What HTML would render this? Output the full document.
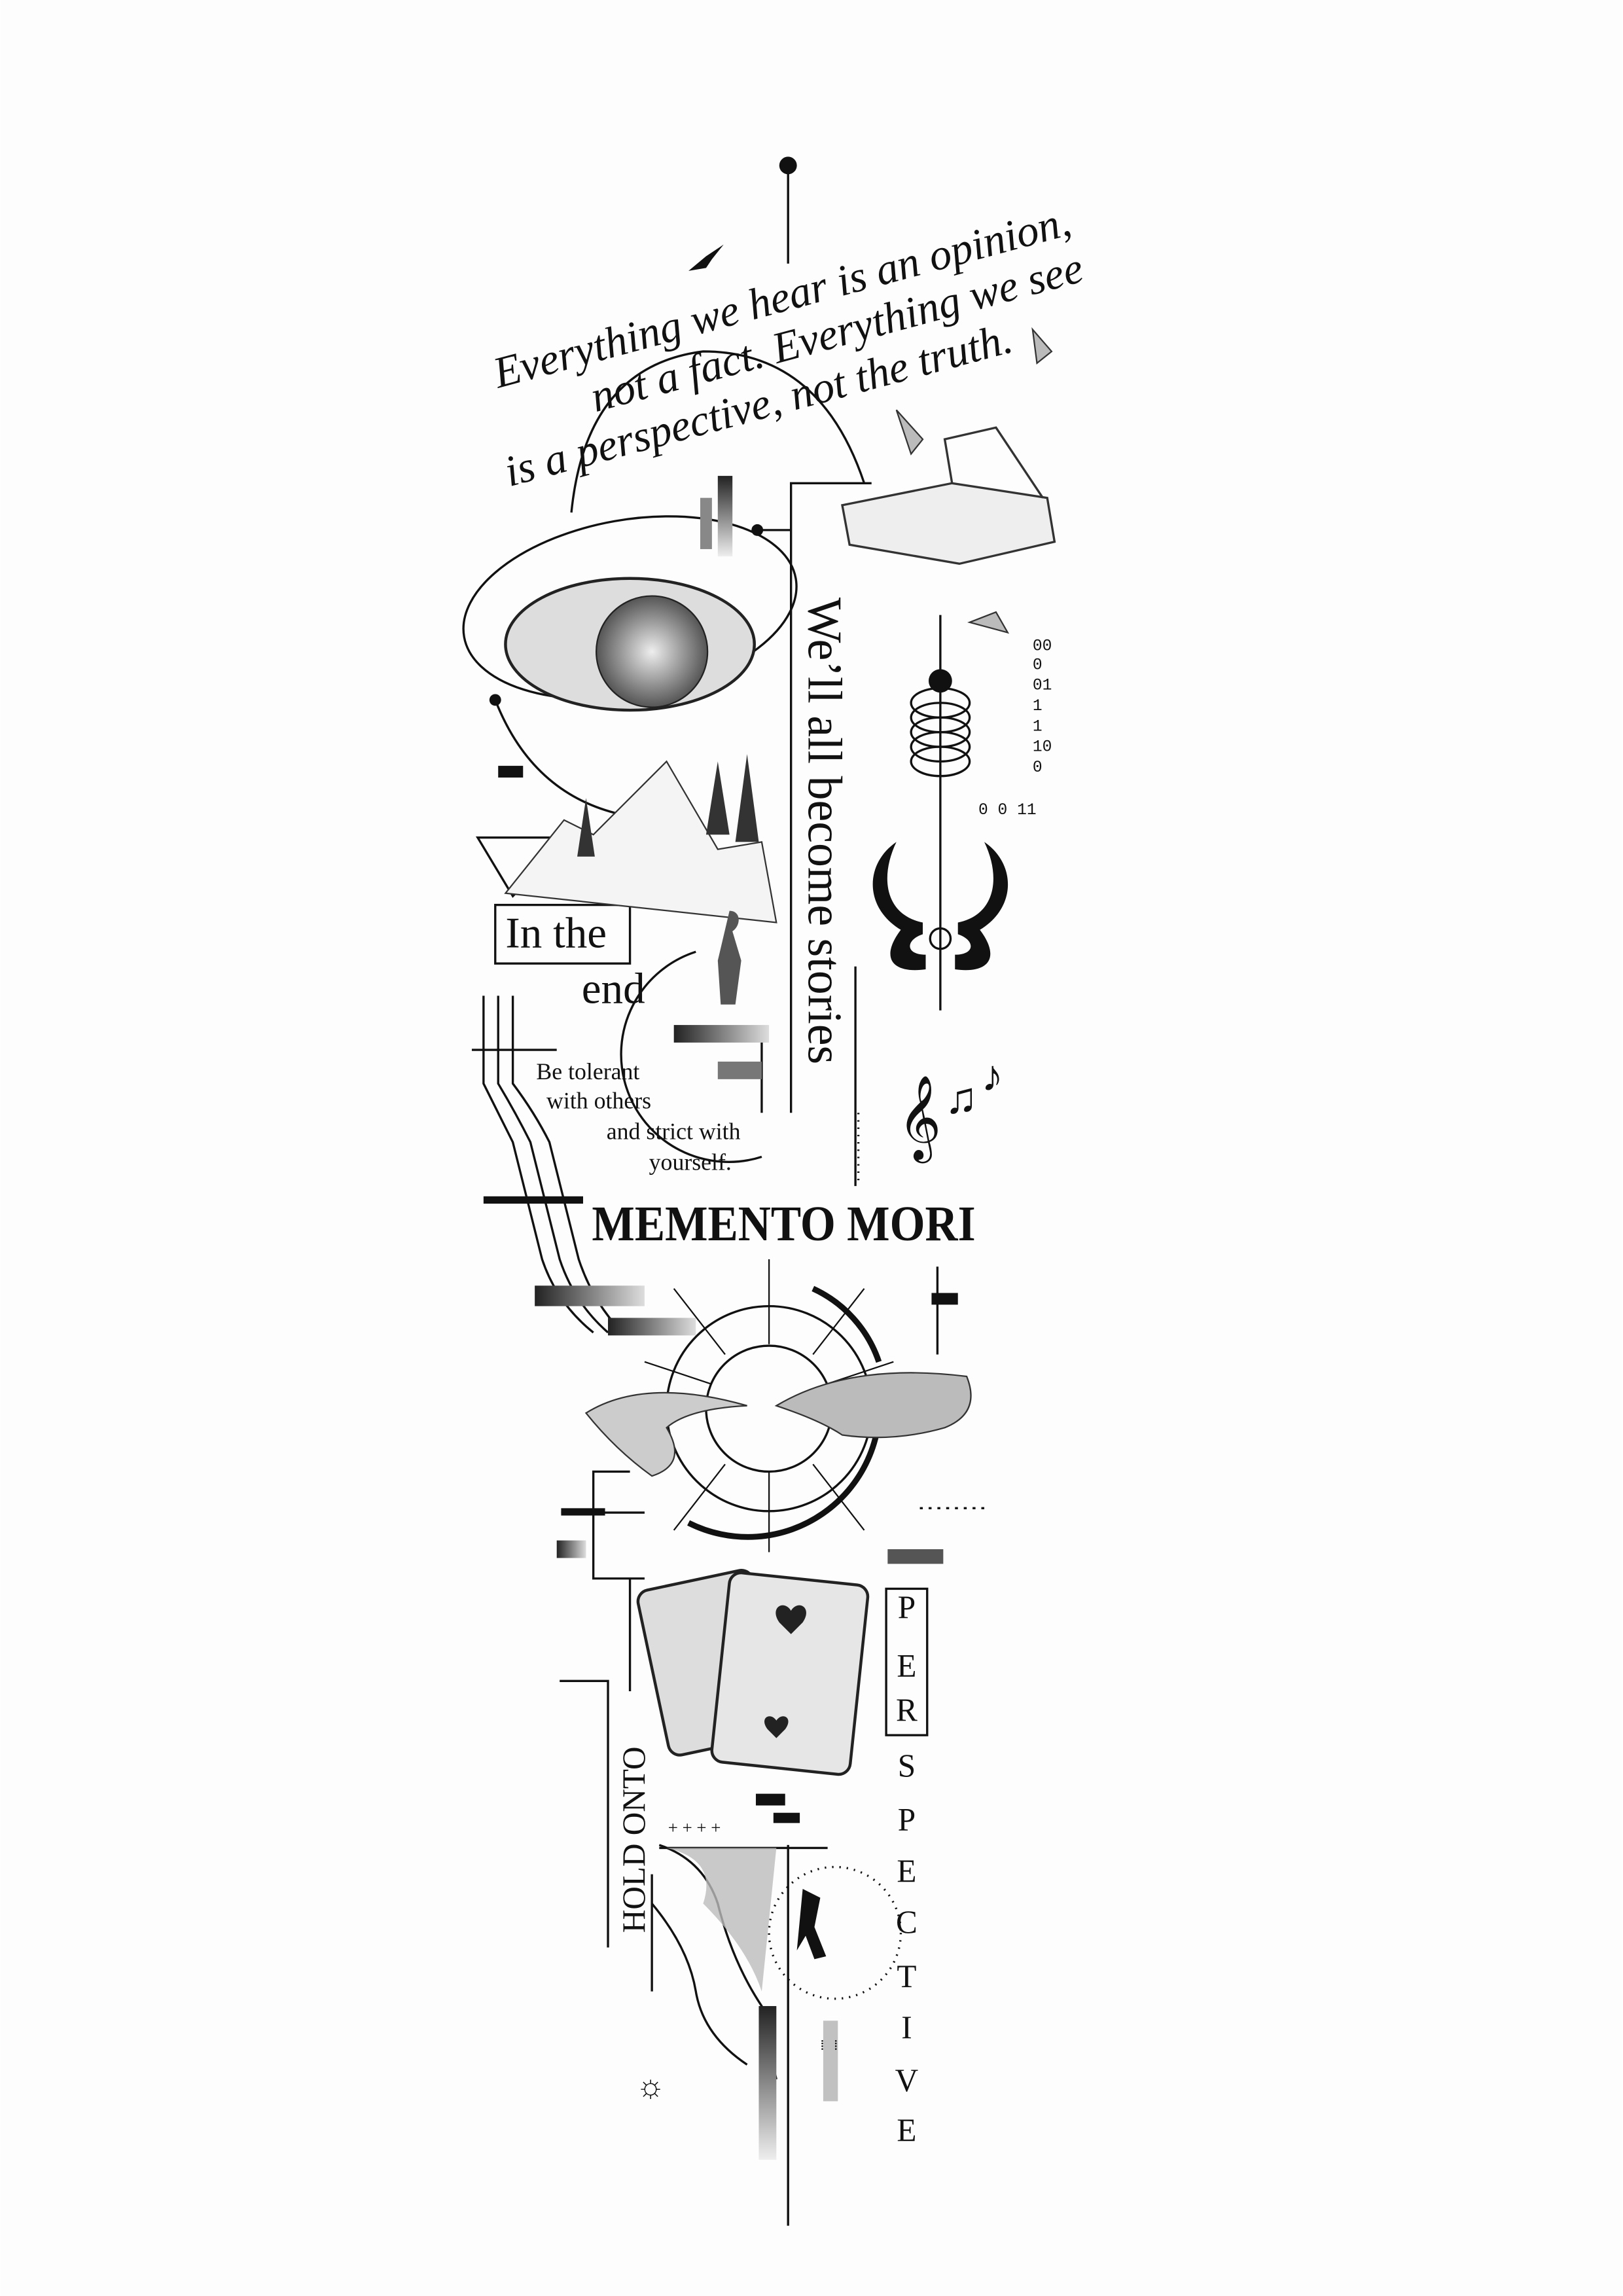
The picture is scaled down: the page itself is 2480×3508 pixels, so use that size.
<!DOCTYPE html>
<html><head><style>html,body{margin:0;padding:0;background:#fff}svg{display:block}</style></head>
<body>
<svg width="2480" height="3508" viewBox="0 0 1108 1568" xmlns="http://www.w3.org/2000/svg" font-family="Liberation Serif, serif">
<defs>
<radialGradient id="g1" cx="50%" cy="50%" r="50%"><stop offset="0" stop-color="#eee"/><stop offset="1" stop-color="#555"/></radialGradient>
<linearGradient id="gr" x1="0" x2="1"><stop offset="0" stop-color="#222"/><stop offset="1" stop-color="#ddd"/></linearGradient>
<linearGradient id="gv" x1="0" y1="0" x2="0" y2="1"><stop offset="0" stop-color="#222"/><stop offset="1" stop-color="#eee"/></linearGradient>
</defs>
<rect width="1108" height="1568" fill="#fdfdfd"/>
<g fill="none" stroke="#111" stroke-width="1.5">
<!-- top line -->
<line x1="538" y1="113" x2="538" y2="180"/>
<!-- big arcs -->
<path d="M390 350 Q400 250 480 240 Q560 240 590 330"/>
<ellipse cx="430" cy="415" rx="115" ry="60" transform="rotate(-10 430 415)"/>
<path d="M338 478 Q370 560 460 560"/>
<!-- frame line near text -->
<path d="M595 330 H540 V760"/>
<line x1="520" y1="362" x2="540" y2="362"/>
<!-- vertical right pendulum -->
<line x1="642" y1="420" x2="642" y2="690"/>
<!-- springs -->
<ellipse cx="642" cy="480" rx="20" ry="10"/><ellipse cx="642" cy="490" rx="20" ry="10"/><ellipse cx="642" cy="500" rx="20" ry="10"/><ellipse cx="642" cy="510" rx="20" ry="10"/><ellipse cx="642" cy="520" rx="20" ry="10"/>
<circle cx="642" cy="641" r="7"/>
<!-- right vertical line -->
<line x1="584" y1="660" x2="584" y2="810"/>
<line x1="586" y1="760" x2="586" y2="810" stroke-dasharray="1 4"/>
<!-- in the end box -->
<rect x="338" y="618" width="92" height="40"/>
<path d="M326 572 H390 L350 612 Z"/>
<!-- wavy lines -->
<path d="M330 680 V740 Q340 760 350 780 Q360 820 370 860 Q380 890 405 910"/>
<path d="M340 680 V740 Q352 760 362 780 Q372 820 382 860 Q392 890 415 910"/>
<path d="M350 680 V740 Q365 760 375 780 Q385 820 395 860 Q405 890 425 910"/>
<line x1="322" y1="717" x2="380" y2="717"/>
<path d="M520 702 V760"/>
<path d="M475 650 A70 70 0 0 0 520 790"/>
<!-- sun -->
<circle cx="525" cy="962" r="43"/>
<circle cx="525" cy="962" r="70"/>
<path d="M470 1040 A90 90 0 0 0 600 950" stroke-width="4"/>
<path d="M555 880 A85 85 0 0 1 600 930" stroke-width="4"/>
<g stroke-width="1">
<line x1="525" y1="860" x2="525" y2="918"/><line x1="525" y1="1005" x2="525" y2="1060"/>
<line x1="430" y1="962" x2="482" y2="962"/><line x1="568" y1="962" x2="620" y2="962"/>
<line x1="460" y1="880" x2="495" y2="925"/><line x1="590" y1="880" x2="555" y2="925"/>
<line x1="460" y1="1045" x2="495" y2="1000"/><line x1="590" y1="1045" x2="555" y2="1000"/>
<line x1="440" y1="930" x2="485" y2="945"/><line x1="610" y1="930" x2="565" y2="945"/>
</g>
<!-- left side lines -->
<path d="M430 1005 H405 V1078 H440"/>
<line x1="383" y1="1033" x2="440" y2="1033"/>
<path d="M430 1078 V1155"/>
<path d="M382 1148 H415 V1330"/>
<path d="M640 865 V925"/>
<line x1="628" y1="1030" x2="672" y2="1030" stroke-dasharray="2 4"/>
<!-- perspective box -->
<rect x="605" y="1085" width="28" height="100"/>
<!-- bottom line -->
<line x1="538" y1="1260" x2="538" y2="1520"/>
<circle cx="570" cy="1320" r="45" stroke-dasharray="1 4"/>
<path d="M450 1260 Q480 1270 490 1300 Q500 1340 520 1370 Q525 1400 530 1420"/>
<path d="M445 1300 Q470 1330 475 1360 Q480 1390 510 1410"/>
<line x1="445" y1="1280" x2="445" y2="1360"/>
<line x1="450" y1="1262" x2="565" y2="1262"/>
</g>
<!-- fills -->
<circle cx="538" cy="113" r="6" fill="#111"/>
<circle cx="642" cy="465" r="8" fill="#111"/>
<circle cx="517" cy="362" r="4" fill="#111"/><circle cx="338" cy="478" r="4" fill="#111"/>
<rect x="340" y="523" width="17" height="8" fill="#111"/>
<rect x="490" y="325" width="10" height="55" fill="url(#gv)"/>
<rect x="478" y="340" width="8" height="35" fill="#888"/>
<rect x="460" y="700" width="65" height="12" fill="url(#gr)"/>
<rect x="490" y="725" width="30" height="12" fill="#777"/>
<rect x="330" y="817" width="68" height="5" fill="#111"/>
<rect x="365" y="878" width="75" height="14" fill="url(#gr)"/>
<rect x="415" y="900" width="60" height="12" fill="url(#gr)"/>
<rect x="636" y="883" width="18" height="8" fill="#111"/>
<rect x="383" y="1030" width="30" height="5" fill="#111"/>
<rect x="380" y="1052" width="20" height="12" fill="url(#gr)"/>
<rect x="606" y="1058" width="38" height="10" fill="#555"/>
<rect x="516" y="1225" width="20" height="8" fill="#111"/><rect x="528" y="1238" width="18" height="7" fill="#111"/>
<rect x="518" y="1370" width="12" height="105" fill="url(#gv)"/>
<rect x="562" y="1380" width="10" height="55" fill="#999" opacity=".6"/>
<!-- eye -->
<ellipse cx="430" cy="440" rx="85" ry="45" fill="#ddd" stroke="#222" stroke-width="2"/>
<circle cx="445" cy="445" r="38" fill="url(#g1)" stroke="#222"/>
<!-- mountains -->
<path d="M345 610 L385 560 L405 570 L455 520 L490 580 L520 575 L530 630 Z" fill="#f4f4f4" stroke="#333"/>
<path d="M490 520 l8 50 h-16z M510 515 l8 60 h-16z M400 545 l6 40 h-12z" fill="#333"/>
<!-- person -->
<path d="M498 622 c8 0 8 10 2 14 l6 20 -4 30 -10 0 -2-30 z" fill="#555"/>
<!-- book -->
<path d="M575 345 L650 330 L715 340 L720 370 L655 385 L580 372 Z" fill="#eee" stroke="#333" stroke-width="1.5"/>
<path d="M650 330 L645 300 L680 292 L712 340" fill="none" stroke="#333" stroke-width="1.5"/>
<path d="M612 280 L630 300 L622 310 Z M705 225 L718 240 L708 248 Z M662 425 L680 418 L688 432 Z" fill="#bbb" stroke="#333"/>
<path d="M470 185 l12 -10 l12 -8 l-8 10 l-4 6z" fill="#111"/>
<!-- taurus -->
<path d="M612 575 C590 590 590 620 615 635 C600 655 610 665 632 662 L632 652 C618 652 618 642 630 638 L630 630 C605 625 600 600 612 575Z" fill="#111"/>
<path d="M672 575 C694 590 694 620 669 635 C684 655 674 665 652 662 L652 652 C666 652 666 642 654 638 L654 630 C679 625 684 600 672 575Z" fill="#111"/>
<!-- hands -->
<path d="M400 965 Q440 940 510 960 Q470 962 455 975 Q470 1000 445 1008 Q420 990 400 965Z" fill="#ccc" stroke="#333"/>
<path d="M530 960 Q580 930 660 940 Q670 965 645 975 Q610 985 575 980 Q560 970 530 960Z" fill="#bbb" stroke="#333"/>
<!-- cards -->
<rect x="445" y="1078" width="80" height="115" rx="8" fill="#ddd" stroke="#222" stroke-width="2" transform="rotate(-12 485 1135)"/>
<rect x="492" y="1078" width="95" height="130" rx="8" fill="#e6e6e6" stroke="#222" stroke-width="2" transform="rotate(6 540 1140)"/>
<path d="M540 1100 c-5-8 -15-2 -8 8 l8 8 8-8 c7-10 -3-16 -8-8z" fill="#222"/>
<path d="M530 1175 c-4-6 -12-2 -6 6 l6 6 6-6 c6-8 -2-12 -6-6z" fill="#222"/>
<!-- cliff -->
<path d="M455 1262 Q490 1270 480 1300 Q510 1330 520 1360 L530 1262 Z" fill="#bbb" opacity=".8"/>
<path d="M548 1290 l12 6 -4 20 8 20 -8 2 -6-16 -6 10z" fill="#111"/>
<!-- text -->
<g font-family="Liberation Serif, serif" font-style="italic" font-size="30" fill="#111" transform="rotate(-15 530 240)">
<text x="340" y="215">Everything we hear is an opinion,</text>
<text x="400" y="248">not a fact. Everything we see</text>
<text x="330" y="282">is a perspective, not the truth.</text>
</g>
<text transform="translate(552 408) rotate(90)" font-size="33" fill="#111">We’ll all become stories</text>
<text x="345" y="647" font-size="30" fill="#111">In the</text>
<text x="397" y="685" font-size="30" fill="#111">end</text>
<g font-size="16" fill="#111" font-family="Liberation Serif, serif">
<text x="366" y="737">Be tolerant</text><text x="373" y="757">with others</text>
<text x="414" y="778">and strict with</text><text x="443" y="799">yourself.</text>
</g>
<text x="404" y="847" font-size="34" font-weight="bold" fill="#111" textLength="262" lengthAdjust="spacingAndGlyphs">MEMENTO MORI</text>
<g font-family="Liberation Mono, monospace" font-size="11" fill="#111">
<text x="705" y="444">00</text><text x="705" y="457">0</text><text x="705" y="471">01</text><text x="705" y="485">1</text><text x="705" y="499">1</text><text x="705" y="513">10</text><text x="705" y="527">0</text><text x="668" y="556">0 0 11</text>
</g>
<text x="613" y="780" font-size="50" fill="#111">𝄞</text>
<text x="645" y="760" font-size="30" fill="#111">♫</text>
<text x="670" y="745" font-size="30" fill="#111">♪</text>
<g font-size="22" fill="#111" text-anchor="middle">
<text x="619" y="1105">P</text><text x="619" y="1145">E</text><text x="619" y="1175">R</text>
<text x="619" y="1213">S</text><text x="619" y="1250">P</text><text x="619" y="1285">E</text>
<text x="619" y="1320">C</text><text x="619" y="1357">T</text><text x="619" y="1392">I</text>
<text x="619" y="1428">V</text><text x="619" y="1462">E</text>
</g>
<text transform="translate(440 1320) rotate(-90)" font-size="22" fill="#111">HOLD ONTO</text>
<text x="456" y="1252" font-size="12" fill="#111">+ + + +</text>
<text x="434" y="1432" font-size="22" fill="#111">☼</text>
<text x="560" y="1400" font-size="10" fill="#111" letter-spacing="2">⁞ ⁞</text>
</svg>
</body></html>
